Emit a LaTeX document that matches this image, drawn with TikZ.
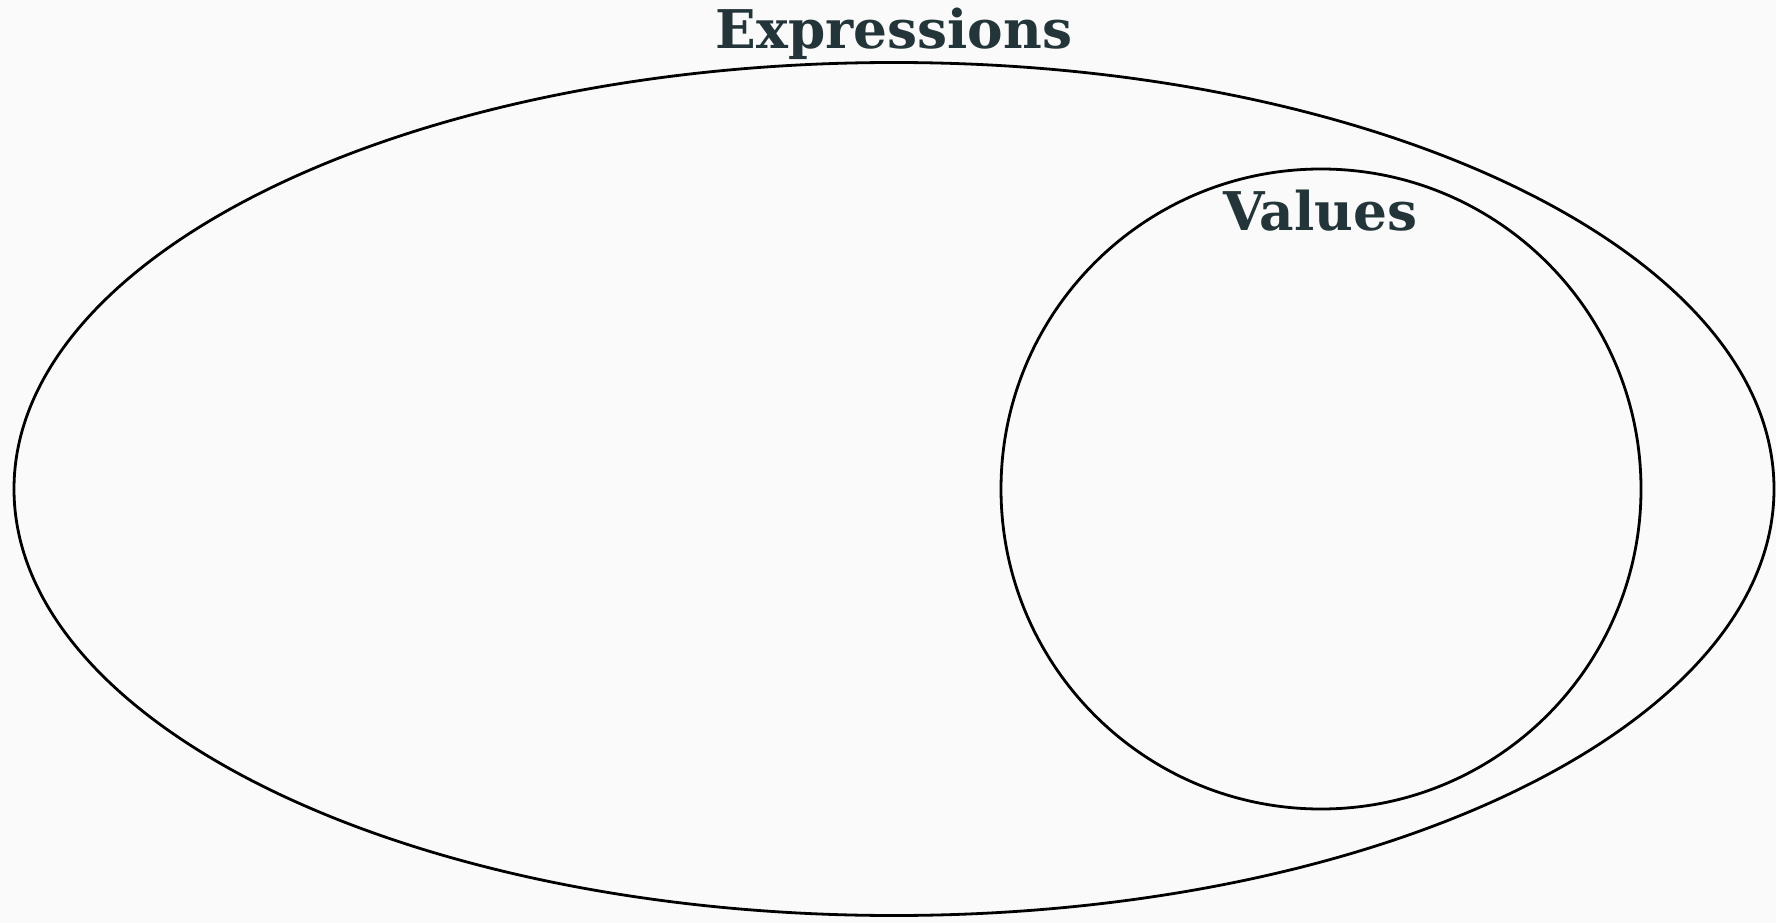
\documentclass[tikz,border=0pt]{standalone}
\usepackage{fontspec}
\usetikzlibrary{shapes.geometric}
\newfontfamily\labelfont{DejaVu Serif}
\definecolor{bgcol}{HTML}{FAFAFA}
\definecolor{labelcol}{HTML}{233539}
\begin{document}
\begin{tikzpicture}[x=0.75pt,y=-0.75pt,
  setline/.style={draw=black,line width=2.1pt},
  setlabel/.style={font=\labelfont\bfseries\fontsize{40}{44}\selectfont,text=labelcol,anchor=base,inner sep=0pt}]
  % canvas
  \fill[bgcol] (0,0) rectangle (1776,923);
  \useasboundingbox (0,0) rectangle (1776,923);
  % outer set: expressions
  \node[setline,ellipse,minimum width=1320pt,minimum height=639.75pt,inner sep=0pt] (expr) at (894,489) {};
  % inner set: values
  \node[setline,circle,minimum size=480pt,inner sep=0pt] (vals) at (1321,489) {};
  \node[setlabel] (exprlabel) at (894,49) {Expressions};
  \node[setlabel] (valslabel) at (1320,231) {Values};
\end{tikzpicture}
\end{document}
